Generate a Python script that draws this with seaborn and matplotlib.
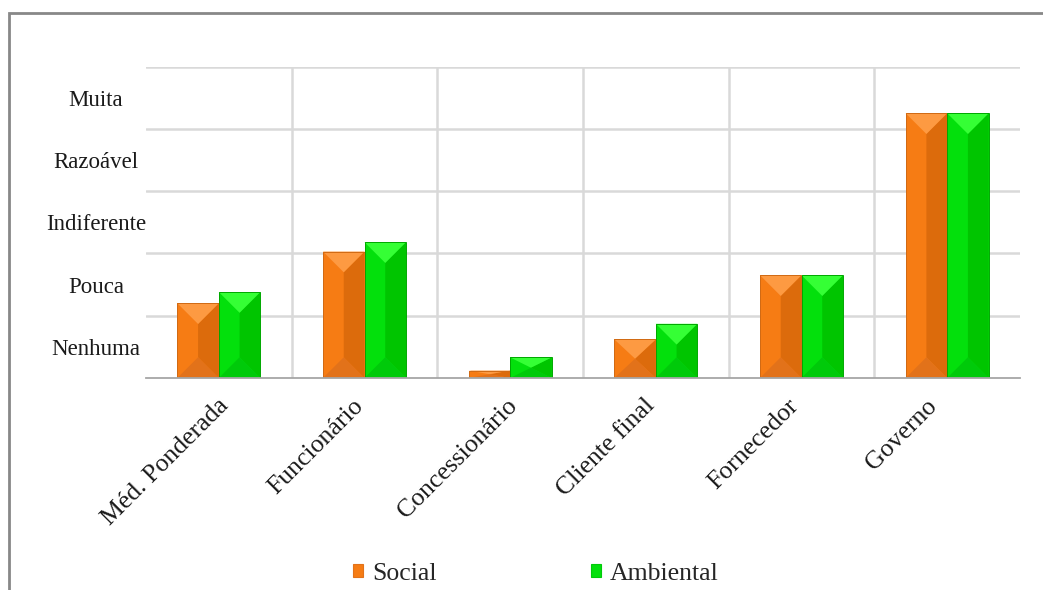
import matplotlib
matplotlib.use("Agg")
import matplotlib.pyplot as plt
from matplotlib.patches import Polygon, Patch, Rectangle
from matplotlib.transforms import ScaledTranslation
import numpy as np
import pandas as pd
import seaborn as sns

# Stakeholder pressure, social vs environmental dimension
categorias = ["Méd. Ponderada", "Funcionário", "Concessionário",
              "Cliente final", "Fornecedor", "Governo"]
social = [1.20, 2.03, 0.12, 0.62, 1.65, 4.25]
ambiental = [1.38, 2.18, 0.33, 0.87, 1.65, 4.25]
series = ["Social", "Ambiental"]
niveis = ["Nenhuma", "Pouca", "Indiferente", "Razoável", "Muita"]

df = pd.DataFrame({
    "categoria": categorias * 2,
    "valor": social + ambiental,
    "dimensao": [series[0]] * len(categorias) + [series[1]] * len(categorias),
})

# face colours: main, right face, top bevel, bottom bevel, edge
faces = {
    "Social": ("#F67C14", "#DC6B0C", "#FD9A42", "#E2721A", "#D06A14"),
    "Ambiental": ("#03E00C", "#00C500", "#35FF35", "#00CA0A", "#00A800"),
}

sns.set_theme(style="white")
plt.rcParams["font.family"] = ["Liberation Serif", "DejaVu Serif"]

fig = plt.figure(figsize=(10.43, 5.90), dpi=100)
ax = fig.add_axes([146 / 1043, 1 - 378 / 590, (1020 - 146) / 1043, (378 - 66.5) / 590])

sns.barplot(data=df, x="categoria", y="valor", hue="dimensao",
            palette=[faces[s][0] for s in series], width=0.57,
            saturation=1, ax=ax, legend=False, zorder=3, linewidth=0)

ax.set_xlim(-0.5, len(categorias) - 0.5)
ax.set_ylim(0, 5)

# bevel shading computed from each bar's own geometry
ax_h_px = (378 - 66.5)
ax_w_px = (1020 - 146)
px_per_y = ax_h_px / 5.0
px_per_x = ax_w_px / len(categorias)
for i, bar in enumerate(ax.patches):
    s = series[i // len(categorias)]
    main, right, top, bottom, edge = faces[s]
    x0 = bar.get_x()
    w = bar.get_width()
    h = bar.get_height()
    x1 = x0 + w
    xc = x0 + w / 2
    d = min((w * px_per_x / 2) / px_per_y, h / 2)
    y1 = h
    ax.add_patch(Polygon([(x1, y1), (xc, y1 - d), (xc, d), (x1, 0)],
                         closed=True, fc=right, ec="none", zorder=4))
    ax.add_patch(Polygon([(x0, y1), (x1, y1), (xc, y1 - d)],
                         closed=True, fc=top, ec="none", zorder=4))
    ax.add_patch(Polygon([(x0, 0), (x1, 0), (xc, d)],
                         closed=True, fc=bottom, ec="none", zorder=4))
    ax.add_patch(Rectangle((x0, 0), w, h, fc="none", ec=edge, lw=0.7, zorder=5))

# grid: horizontal lines at level boundaries, vertical at category boundaries
ax.set_yticks(range(1, 6))
ax.set_yticks(np.arange(0.5, 5, 1), minor=True)
ax.set_yticklabels([])
ax.set_yticklabels(niveis, minor=True, fontsize=16.5, color="#1a1a1a")
for lab in ax.get_yticklabels(minor=True):
    lab.set_horizontalalignment("center")
ax.tick_params(axis="y", which="both", length=0, pad=36)

ax.set_xticks(range(len(categorias)))
ax.set_xticks(np.arange(-0.5, len(categorias), 1), minor=True)
ax.set_xticklabels(categorias, rotation=45, ha="right", va="top",
                   rotation_mode="anchor", fontsize=18.5, color="#1a1a1a")
ax.tick_params(axis="x", which="major", length=0, pad=12)
ax.tick_params(axis="x", which="minor", length=7, width=1.3, color="#A6A6A6")

# shorter rotated labels sit a little further left of their category centre
renderer = fig.canvas.get_renderer()
for lab in ax.get_xticklabels():
    w_px, _, _ = renderer.get_text_width_height_descent(
        lab.get_text(), lab.get_fontproperties(), ismath=False)
    shift = -43.3 + 0.246 * w_px
    lab.set_transform(lab.get_transform()
                      + ScaledTranslation(shift / 100, 0, fig.dpi_scale_trans))

ax.grid(False)
ax.yaxis.grid(True, which="major", color="#D9D9D9", lw=1.8, zorder=0)
for xv in np.arange(0.5, len(categorias) - 1, 1):
    ax.axvline(xv, color="#D9D9D9", lw=1.8, zorder=0)

for side in ["left", "top", "right"]:
    ax.spines[side].set_visible(False)
ax.spines["bottom"].set_color("#A6A6A6")
ax.spines["bottom"].set_linewidth(1.3)
ax.spines["bottom"].set_zorder(6)
ax.set_xlabel("")
ax.set_ylabel("")

handles = [Patch(facecolor=faces[s][0], edgecolor=faces[s][3], lw=0.8) for s in series]
fig.legend(handles, series, loc="center", bbox_to_anchor=(536 / 1043, 1 - 574 / 590),
           ncol=2, frameon=False, fontsize=18.5, handlelength=0.4, handleheight=0.4,
           handletextpad=0.35, columnspacing=6.0, borderpad=0, borderaxespad=0)

# outer frame of the chart area
fig.add_artist(Rectangle((9 / 1043, -0.1), 1.2, 1 - 13 / 590 + 0.1,
                         transform=fig.transFigure, fill=False,
                         ec="#888888", lw=2))

fig.savefig("out.png", dpi=100)
